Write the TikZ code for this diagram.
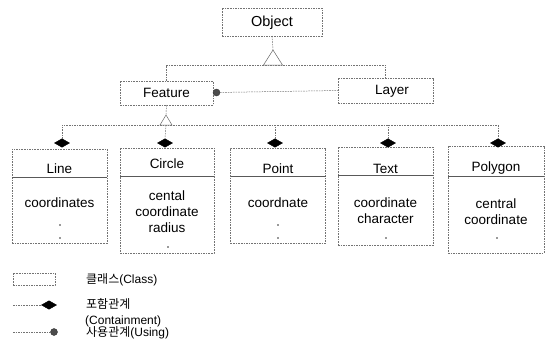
\documentclass[tikz,border=0pt]{standalone}
\usepackage{fontspec}
\setmainfont{Liberation Sans}
\newfontfamily\kor{Noto Sans CJK KR}
\usetikzlibrary{shapes.geometric}
\tikzset{
  dline/.style={draw=black!55, line width=0.5pt, dash pattern=on 1.6pt off 1pt},
  clsbox/.style={dline, rectangle, inner sep=0pt, outer sep=0pt},
  sepline/.style={draw=black!65, line width=0.6pt},
  hasa/.style={diamond, fill=black, draw=black, inner sep=0pt, outer sep=0pt,
    minimum width=15pt, minimum height=8.5pt, shape aspect=1.75},
  uses/.style={circle, fill=black!70, draw=black!80, inner sep=0pt, outer sep=0pt,
    minimum size=7pt},
  title/.style={font=\fontsize{13.5}{15}\selectfont, inner sep=0pt},
  body/.style={font=\fontsize{13.5}{16}\selectfont, inner sep=0pt, align=center},
  dotmark/.style={fill=black!80, circle, inner sep=0pt, minimum size=1.8pt},
  legtext/.style={font=\fontsize{12}{14}\selectfont, inner sep=0pt, anchor=west},
}
\begin{document}
\begin{tikzpicture}[x=1pt,y=-1pt]
\useasboundingbox (0,0) rectangle (552,351);

% --- top classes ---
\node[clsbox, minimum width=100pt, minimum height=28pt] (object) at (272,22) {};
\node[title, font=\fontsize{14.5}{16}\selectfont] (objectt) at (272,23) {Object};

\node[clsbox, minimum width=93pt, minimum height=24pt] (feature) at (166.5,93) {};
\node[title] (featuret) at (166.5,93) {Feature};

\node[clsbox, minimum width=95pt, minimum height=25pt] (layer) at (385.5,90.5) {};
\node[title] (layert) at (392,91) {Layer};

% generalisation of Feature and Layer
\coordinate (objtri) at (273,65);
\coordinate (objapex) at (273,50);
\draw[dline] (object.south) -- (objapex);
\draw[dline] (feature.north) |- (objtri) -| (layer.north);
\draw[draw=black!60, line width=0.5pt, fill=white] (objtri) ++(-9.5,0) -- (objapex) -- ++(9.5,15) -- cycle;

% Feature uses Layer
\node[uses] (usedot) at (216.5,92.5) {};
\draw[dline] (usedot) -- (layer.west);

% --- class boxes of the lower row ---
\node[clsbox, minimum width=95pt, minimum height=94pt] (line) at (59.5,196) {};
\node[clsbox, minimum width=94pt, minimum height=105pt] (circ) at (167,200.5) {};
\node[clsbox, minimum width=95pt, minimum height=95pt] (point) at (278,195.5) {};
\node[clsbox, minimum width=95pt, minimum height=98pt] (text) at (385.5,196) {};
\node[clsbox, minimum width=96pt, minimum height=107pt] (poly) at (496,199.5) {};

% title separators
\draw[sepline] (line.west |- 0,177) -- (line.east |- 0,177);
\draw[sepline] (circ.west |- 0,176) -- (circ.east |- 0,176);
\draw[sepline] (point.west |- 0,176) -- (point.east |- 0,176);
\draw[sepline] (text.west |- 0,175) -- (text.east |- 0,175);
\draw[sepline] (poly.west |- 0,176) -- (poly.east |- 0,176);

% titles
\node[title] (linet) at (59.5,169) {Line};
\node[title] (circt) at (167,163.5) {Circle};
\node[title] (pointt) at (278,169) {Point};
\node[title] (textt) at (385.5,168.5) {Text};
\node[title] (polyt) at (496,168.5) {Polygon};

% attributes
\node[body] (lineb) at (59.5,203) {coordinates};
\node[dotmark] (lined1) at (60,225) {};
\node[dotmark] (lined2) at (60,238) {};

\node[body] (circb) at (167,211.5) {cental\\coordinate\\radius};
\node[dotmark] (circd1) at (168,247) {};

\node[body] (pointb) at (278,203) {coordnate};
\node[dotmark] (pointd1) at (278,225) {};
\node[dotmark] (pointd2) at (278,238) {};

\node[body] (textb) at (385.5,211) {coordinate\\character};
\node[dotmark] (textd1) at (386,238) {};

\node[body] (polyb) at (496,212) {central\\coordinate};
\node[dotmark] (polyd1) at (497,238) {};

% containment diamonds
\node[hasa] (hline) at (62,143) {};
\node[hasa] (hcirc) at (165,143) {};
\node[hasa] (hpoint) at (275,143) {};
\node[hasa] (htext) at (388,143) {};
\node[hasa] (hpoly) at (498,143) {};

% Feature generalisation and containment bar
\coordinate (feattri) at (166,125);
\coordinate (featapex) at (166,115);
\draw[dline] (feature.south) -- (featapex);
\draw[dline] (hline.north) |- (feattri) -| (hpoly.north);
\draw[dline] (feattri) -- (hcirc.north);
\draw[dline] (hpoint.north) -- (hpoint.north |- feattri);
\draw[dline] (htext.north) -- (htext.north |- feattri);
\draw[draw=black!60, line width=0.5pt, fill=white] (feattri) ++(-6,0) -- (featapex) -- ++(6,10) -- cycle;

% --- legend ---
\node[clsbox, minimum width=42pt, minimum height=12pt] (legcls) at (34,279) {};
\node[legtext] (legclst) at (86,280) {{\kor 클래스}(Class)};

\coordinate (legc0) at (13,305);
\node[hasa] (legcd) at (49,305) {};
\draw[dline] (legc0) -- (legcd.west);
\node[legtext] (legcont1) at (86,304) {\kor 포함관계};
\node[legtext] (legcont2) at (85,321) {(Containment)};

\coordinate (legu0) at (13,332);
\node[uses] (legud) at (54,332) {};
\draw[dline] (legu0) -- (legud.west);
\node[legtext] (legusing) at (86,333) {{\kor 사용관계}(Using)};
\end{tikzpicture}
\end{document}
